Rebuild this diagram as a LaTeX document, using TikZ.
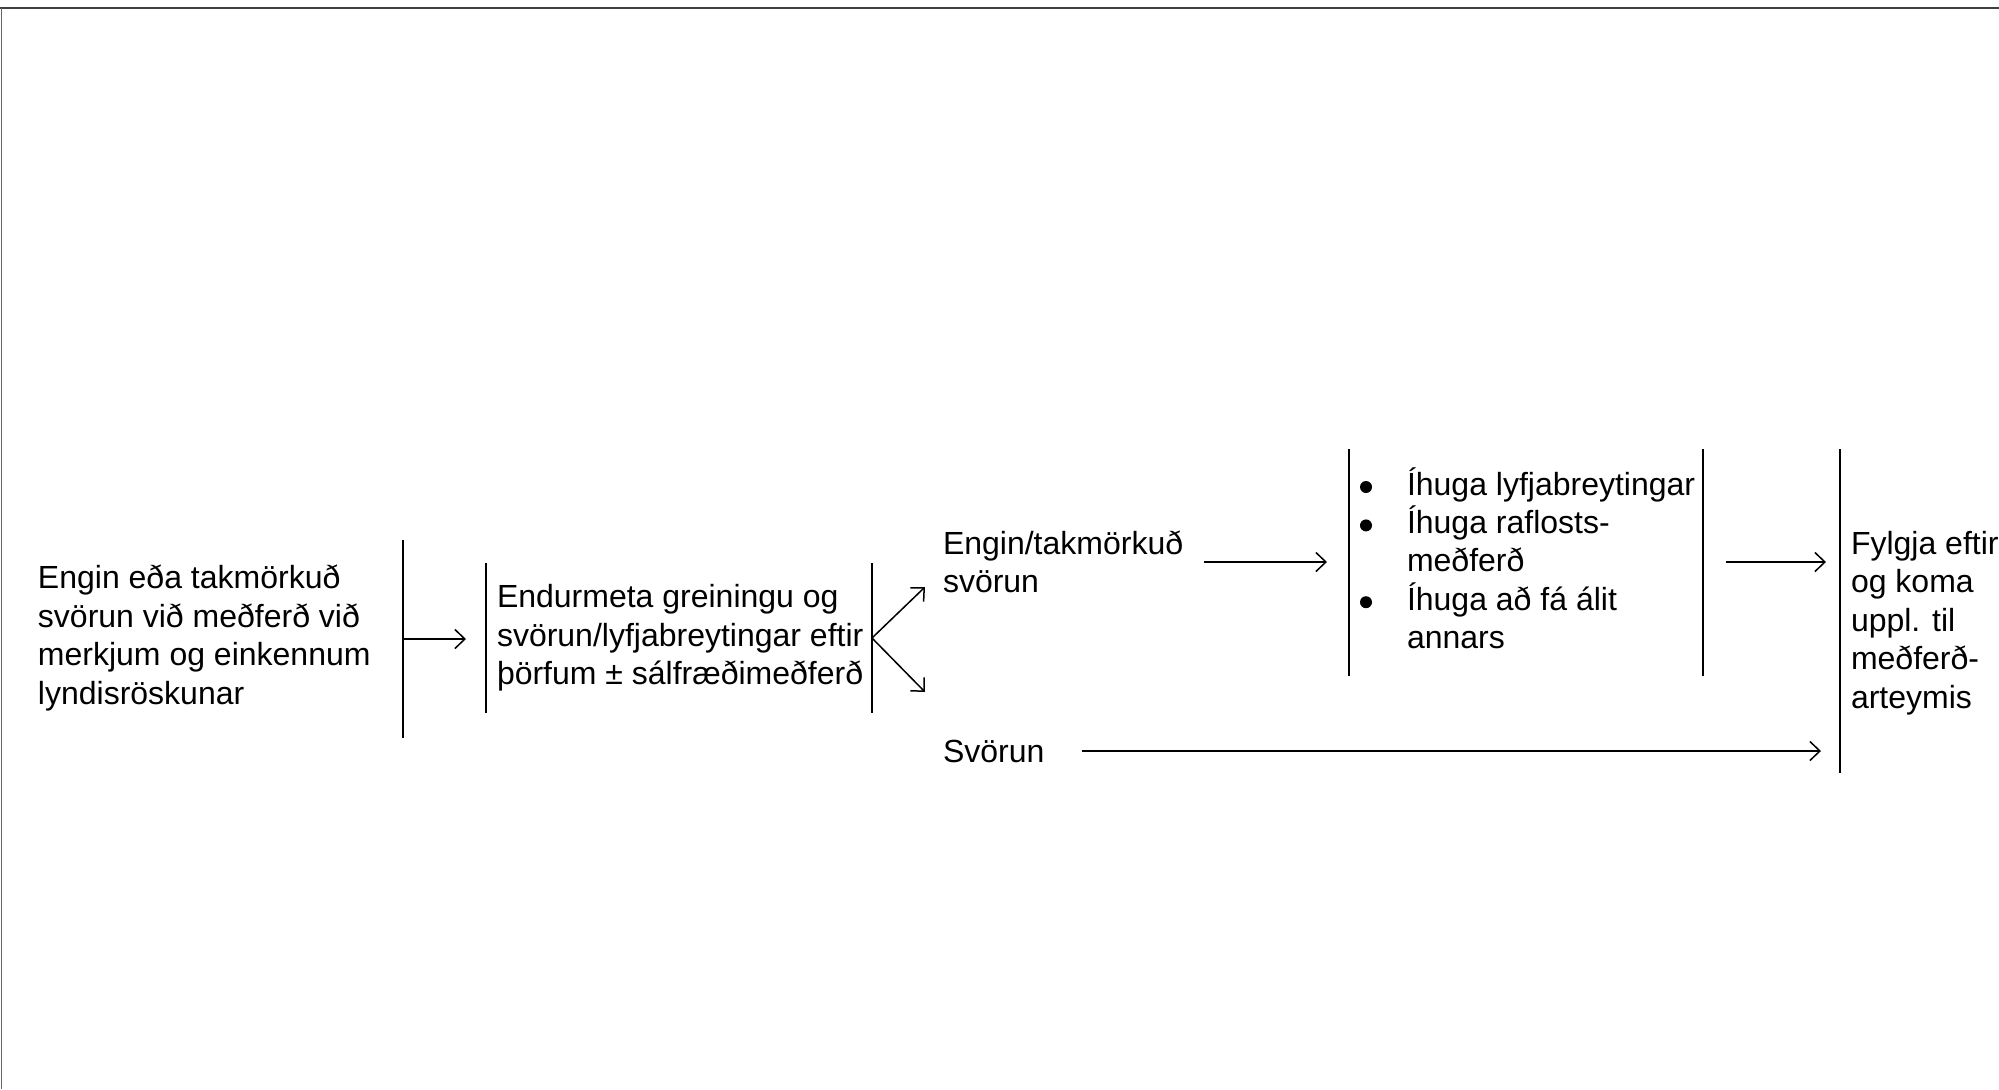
\documentclass[tikz,border=0pt]{standalone}
\usepackage{fontspec}
\setmainfont{Liberation Sans}
\usetikzlibrary{arrows.meta}
\begin{document}
\begin{tikzpicture}[x=0.5pt,y=-0.5pt,
  txt/.style={inner sep=0pt, outer sep=0pt, anchor=west, align=left,
    font=\fontsize{16pt}{19.2pt}\selectfont},
  bar/.style={line width=1pt, black},
  conn/.style={line width=0.75pt, black, -{Straight Barb[length=5pt,width=9.5pt]}},
  bul/.style={fill=black},
  frame/.style={line width=1pt, black!75}]
\useasboundingbox (0,0) rectangle (1999,1089);
% frame
\draw[frame] (0,8) -- (1999,8);
\draw[line width=0.5pt, black!60] (1,8) -- (1,1089);
% text nodes
\node[txt] (start) at (38,638) {Engin eða takmörkuð\\svörun við meðferð við\\merkjum og einkennum\\lyndisröskunar};
\node[txt] (reassess) at (497,638) {Endurmeta greiningu og\\svörun/lyfjabreytingar eftir\\þörfum ± sálfræðimeðferð};
\node[txt] (limited) at (943,562) {Engin/takmörkuð\\svörun};
\node[txt] (resp) at (943,751) {Svörun};
\node[txt, anchor=base west] (consider) at (1407,648.6) {Íhuga lyfjabreytingar\\
Íhuga raflosts-\\
meðferð\\
Íhuga að fá álit\\
annars};
\node[txt] (follow) at (1851,623) {Fylgja eftir\\og koma\\uppl. til\\meðferð-\\arteymis};
% bullets
\fill[bul] (1366,487) circle (6);
\fill[bul] (1366,525.4) circle (6);
\fill[bul] (1366,602.2) circle (6);
% bars (box borders)
\coordinate (b1t) at (403,540); \coordinate (b1b) at (403,738);
\coordinate (b2t) at (486,563); \coordinate (b2b) at (486,713);
\coordinate (b3t) at (872,563); \coordinate (b3b) at (872,713);
\coordinate (b4t) at (1349,449); \coordinate (b4b) at (1349,676);
\coordinate (b5t) at (1703,449); \coordinate (b5b) at (1703,676);
\coordinate (b6t) at (1840,449); \coordinate (b6b) at (1840,773);
\draw[bar] (b1t) -- (b1b);
\draw[bar] (b2t) -- (b2b);
\draw[bar] (b3t) -- (b3b);
\draw[bar] (b4t) -- (b4b);
\draw[bar] (b5t) -- (b5b);
\draw[bar] (b6t) -- (b6b);
% connector ends
\coordinate (a1s) at (403,639); \coordinate (a1e) at (466,639);
\coordinate (a2s) at (872,638); \coordinate (a2e) at (925,587);
\coordinate (a3e) at (925,692);
\coordinate (a4s) at (1204,562); \coordinate (a4e) at (1327,562);
\coordinate (a5s) at (1726,562); \coordinate (a5e) at (1826,562);
\coordinate (a6s) at (1082,751); \coordinate (a6e) at (1821,751);
\draw[conn] (a1s) -- (a1e);
\draw[conn] (a2s) -- (a2e);
\draw[conn] (a2s) -- (a3e);
\draw[conn] (a4s) -- (a4e);
\draw[conn] (a5s) -- (a5e);
\draw[conn] (a6s) -- (a6e);
\end{tikzpicture}
\end{document}
